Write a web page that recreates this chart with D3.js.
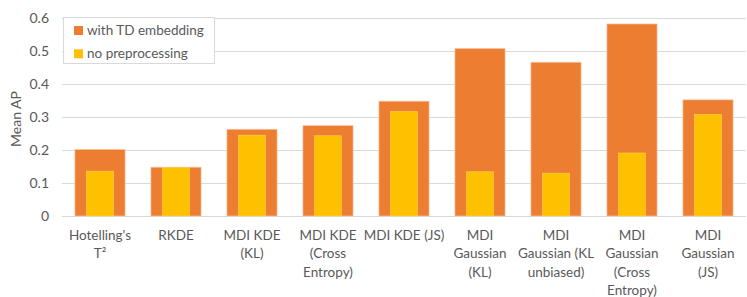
<!DOCTYPE html>
<html>
<head>
<meta charset="utf-8">
<script src="https://cdn.jsdelivr.net/npm/d3@7"></script>
<style>
  body { margin: 0; background: #fff; }
  text { font-family: Lato, "Open Sans", sans-serif; fill: #595959; }
</style>
</head>
<body>
<script>
// chart data
var categories = [
  ["Hotelling's", "T\u00B2"],
  ["RKDE"],
  ["MDI KDE", "(KL)"],
  ["MDI KDE", "(Cross", "Entropy)"],
  ["MDI KDE (JS)"],
  ["MDI", "Gaussian", "(KL)"],
  ["MDI", "Gaussian (KL", "unbiased)"],
  ["MDI", "Gaussian", "(Cross", "Entropy)"],
  ["MDI", "Gaussian", "(JS)"]
];
var withTD = [0.202, 0.148, 0.263, 0.274, 0.348, 0.508, 0.466, 0.582, 0.352];
var noPrep = [0.136, 0.147, 0.245, 0.243, 0.317, 0.134, 0.130, 0.191, 0.308];
var yTicks = [0, 0.1, 0.2, 0.3, 0.4, 0.5, 0.6];
var seriesNames = ["with TD embedding", "no preprocessing"];
var colors = ["#ED7D31", "#FFC000"];

var W = 747, H = 297;
var pLeft = 62, pRight = 746, pTop = 18, pBottom = 216;

var svg = d3.select("body").append("svg")
  .attr("width", W).attr("height", H);

var x = d3.scaleBand()
  .domain(d3.range(categories.length))
  .range([pLeft, pRight])
  .paddingInner(0.34)
  .paddingOuter(0.17);

var y = d3.scaleLinear().domain([0, 0.6]).range([pBottom, pTop]);

// gridlines + y labels
var yAxis = d3.axisLeft(y)
  .tickValues(yTicks)
  .tickSize(-(pRight - pLeft))
  .tickPadding(13)
  .tickFormat(function(d) { return d === 0 ? "0" : d3.format(".1f")(d); });

var gy = svg.append("g")
  .attr("transform", "translate(" + pLeft + ",0)")
  .call(yAxis);
gy.select(".domain").remove();
gy.selectAll(".tick line").attr("stroke", "#D9D9D9").attr("stroke-width", 1);
gy.selectAll(".tick text")
  .style("font-size", "14px")
  .attr("fill", "#595959");

// bars
var innerW = x.bandwidth() * 0.54;

svg.append("g").selectAll("rect")
  .data(withTD)
  .enter()
  .append("rect")
  .attr("x", function(d, i) { return x(i); })
  .attr("y", function(d) { return y(d); })
  .attr("width", x.bandwidth())
  .attr("height", function(d) { return y(0) - y(d); })
  .attr("fill", colors[0])
  .attr("stroke", "#F8CBAD")
  .attr("stroke-width", 0.7);

svg.append("g").selectAll("rect")
  .data(noPrep)
  .enter()
  .append("rect")
  .attr("x", function(d, i) { return x(i) + (x.bandwidth() - innerW) / 2; })
  .attr("y", function(d) { return y(d); })
  .attr("width", innerW)
  .attr("height", function(d) { return y(0) - y(d); })
  .attr("fill", colors[1])
  .attr("stroke", "#FFD966")
  .attr("stroke-width", 0.5);

// x labels
var xl = svg.append("g");
categories.forEach(function(lines, i) {
  var t = xl.append("text")
    .attr("text-anchor", "middle")
    .style("font-size", "13.5px")
    .attr("x", x(i) + x.bandwidth() / 2)
    .attr("y", 240);
  lines.forEach(function(s, j) {
    t.append("tspan")
      .attr("x", x(i) + x.bandwidth() / 2)
      .attr("dy", j === 0 ? 0 : 18.3)
      .text(s);
  });
});

// y title
svg.append("text")
  .attr("transform", "translate(21,119) rotate(-90)")
  .attr("text-anchor", "middle")
  .style("font-size", "14px")
  .text("Mean AP");

// legend
var lg = svg.append("g");
lg.append("rect")
  .attr("x", 63.5).attr("y", 17.5)
  .attr("width", 151).attr("height", 46)
  .attr("fill", "#fff")
  .attr("stroke", "#D9D9D9");
seriesNames.forEach(function(name, i) {
  lg.append("rect")
    .attr("x", 74).attr("y", 26 + i * 23.3)
    .attr("width", 9).attr("height", 9)
    .attr("fill", colors[i]);
  lg.append("text")
    .attr("x", 87).attr("y", 35 + i * 23.3)
    .style("font-size", "13.5px")
    .text(name);
});
</script>
</body>
</html>
